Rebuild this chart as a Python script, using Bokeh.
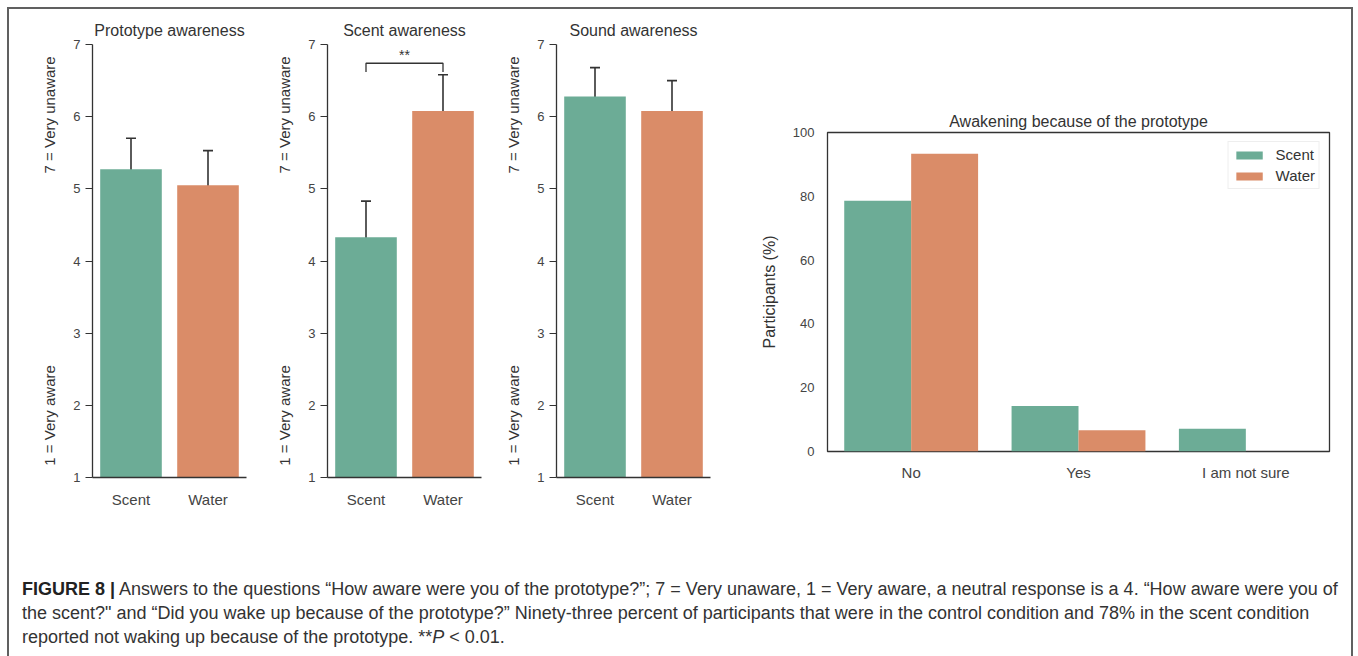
from bokeh.plotting import figure
from bokeh.models import (ColumnDataSource, FactorRange, Range1d, Whisker, TeeHead,
                          Label, FixedTicker, Legend, LegendItem, Div, Spacer)
from bokeh.layouts import row, column
from bokeh.transform import dodge
from bokeh.embed import file_html
from bokeh.resources import INLINE

# ---------------- data ----------------
conditions = ["Scent", "Water"]

proto_mean = [5.27, 5.05]
proto_lo = [4.85, 4.53]
proto_hi = [5.70, 5.53]

scent_mean = [4.33, 6.08]
scent_lo = [3.92, 5.75]
scent_hi = [4.83, 6.58]

sound_mean = [6.28, 6.08]
sound_lo = [5.97, 5.71]
sound_hi = [6.68, 6.50]

awareness_ticks = [1, 2, 3, 4, 5, 6, 7]
ylabel_low = "1 = Very aware"
ylabel_high = "7 = Very unaware"

wake_answers = ["No", "Yes", "I am not sure"]
wake_scent = [78.6, 14.3, 7.1]
wake_water = [93.3, 6.7, 0.0]
wake_ticks = [0, 20, 40, 60, 80, 100]

caption_lines = [
    "Answers to the questions \u201cHow aware were you of the prototype?\u201d; 7 = Very unaware, 1 = Very aware, a neutral response is a 4. \u201cHow aware were you of",
    "the scent?\" and \u201cDid you wake up because of the prototype?\u201d Ninety-three percent of participants that were in the control condition and 78% in the scent condition",
    "reported not waking up because of the prototype. **<i>P</i> &lt; 0.01.",
]

# ---------------- style ----------------
GREEN = "#6cac96"
ORANGE = "#da8c68"
FONT = "Liberation Sans"
AXIS = "#333333"
TICKTXT = "#444444"
TXT = "#333333"
ERR = "#333333"
NBSP = "\u00a0"


def awareness_panel(title, means, lo, hi, left_border, sig=None):
    src = ColumnDataSource(dict(cond=conditions, mean=means, lo=lo, hi=hi,
                                color=[GREEN, ORANGE]))
    p = figure(x_range=FactorRange(*conditions, range_padding=0),
               y_range=Range1d(1, 7),
               frame_width=156, frame_height=433,
               min_border_left=left_border, min_border_right=2,
               min_border_top=35, min_border_bottom=72,
               output_backend="svg", toolbar_location=None, title=title)
    p.vbar(x="cond", top="mean", bottom=0, width=0.8, source=src,
           fill_color="color", line_color=None)
    w = Whisker(source=src, base="cond", upper="hi", lower="lo",
                line_color=ERR, line_width=1.6,
                upper_head=TeeHead(size=10, line_color=ERR, line_width=1.6),
                lower_head=TeeHead(size=10, line_color=ERR, line_width=1.6))
    p.add_layout(w)

    p.title.align = "center"
    p.title.text_font = FONT
    p.title.text_font_size = "16px"
    p.title.text_font_style = "normal"
    p.title.text_color = TXT
    p.title.standoff = 11

    p.outline_line_color = None
    p.grid.visible = False
    p.background_fill_color = "white"
    p.border_fill_color = "white"

    p.yaxis.ticker = FixedTicker(ticks=awareness_ticks)
    p.yaxis.minor_tick_line_color = None
    p.yaxis.major_tick_out = 7
    p.yaxis.major_tick_in = 0
    p.yaxis.major_label_standoff = 5
    p.yaxis.major_tick_line_color = AXIS
    p.xaxis.major_tick_line_color = None
    p.xaxis.major_tick_out = 0
    p.xaxis.major_tick_in = 0
    p.xaxis.major_label_standoff = 13
    for ax in (p.xaxis[0], p.yaxis[0]):
        ax.axis_line_color = AXIS
        ax.axis_line_width = 1.3
        ax.major_label_text_font = FONT
        ax.major_label_text_color = TICKTXT
    p.yaxis.major_label_text_font_size = "13px"
    p.xaxis.major_label_text_font_size = "15px"

    p.yaxis.axis_label = ylabel_low + NBSP * 46 + ylabel_high
    p.yaxis.axis_label_text_font = FONT
    p.yaxis.axis_label_text_font_size = "15px"
    p.yaxis.axis_label_text_font_style = "normal"
    p.yaxis.axis_label_text_color = TXT
    p.yaxis.axis_label_standoff = 12

    if sig is not None:
        ytip = max(hi) + 0.04
        ytop = ytip + 0.12
        p.line(x=[conditions[0], conditions[0], conditions[1], conditions[1]],
               y=[ytip, ytop, ytop, ytip], line_color=ERR, line_width=1.3)
        p.add_layout(Label(x=1, y=ytop + 0.01, text=sig, text_align="center",
                           text_baseline="bottom", text_font=FONT,
                           text_font_size="14px", text_color=TXT))
    return p


p1 = awareness_panel("Prototype awareness", proto_mean, proto_lo, proto_hi, 83)
p2 = awareness_panel("Scent awareness", scent_mean, scent_lo, scent_hi, 78, sig="**")
p3 = awareness_panel("Sound awareness", sound_mean, sound_lo, sound_hi, 73)

# ---------------- panel 4 ----------------
src4 = ColumnDataSource(dict(ans=wake_answers, scent=wake_scent, water=wake_water))
p4 = figure(x_range=FactorRange(*wake_answers, range_padding=0),
            y_range=Range1d(0, 100),
            frame_width=502, frame_height=319,
            min_border_left=114, min_border_right=22,
            min_border_top=35, min_border_bottom=72,
            output_backend="svg", toolbar_location=None,
            title="Awakening because of the prototype")
r_s = p4.vbar(x=dodge("ans", -0.2, range=p4.x_range), top="scent", width=0.4,
              source=src4, fill_color=GREEN, line_color=None)
r_w = p4.vbar(x=dodge("ans", 0.2, range=p4.x_range), top="water", width=0.4,
              source=src4, fill_color=ORANGE, line_color=None)
p4.title.align = "center"
p4.title.text_font = FONT
p4.title.text_font_size = "16px"
p4.title.text_font_style = "normal"
p4.title.text_color = TXT
p4.title.standoff = 5
p4.grid.visible = False
p4.outline_line_color = AXIS
p4.outline_line_width = 1.3
p4.outline_line_alpha = 1.0
p4.yaxis.ticker = FixedTicker(ticks=wake_ticks)
for ax in (p4.xaxis[0], p4.yaxis[0]):
    ax.axis_line_color = None
    ax.major_tick_line_color = None
    ax.minor_tick_line_color = None
    ax.major_tick_out = 0
    ax.major_tick_in = 0
    ax.major_label_text_font = FONT
    ax.major_label_text_color = TICKTXT
p4.yaxis.major_label_text_font_size = "13px"
p4.xaxis.major_label_text_font_size = "15px"
p4.yaxis.major_label_standoff = 13
p4.xaxis.major_label_standoff = 12
p4.yaxis.axis_label = "Participants (%)"
p4.yaxis.axis_label_text_font = FONT
p4.yaxis.axis_label_text_font_size = "16px"
p4.yaxis.axis_label_text_font_style = "normal"
p4.yaxis.axis_label_text_color = TXT
p4.yaxis.axis_label_standoff = 12

legend = Legend(items=[LegendItem(label="Scent", renderers=[r_s]),
                       LegendItem(label="Water", renderers=[r_w])],
                location="top_right", label_text_font=FONT,
                label_text_font_size="15px", label_text_color=TXT,
                glyph_width=33, glyph_height=10, label_standoff=10,
                spacing=4, padding=4, margin=9,
                border_line_color="#dddddd", border_line_width=1,
                background_fill_alpha=1.0)
p4.add_layout(legend)

p4_col = column(Spacer(width=638, height=88), p4)

# ---------------- caption ----------------
cap_html = ("<span style='font-weight:bold;color:#222'>FIGURE 8 |</span> " + caption_lines[0]
            + "<br>" + caption_lines[1] + "<br>" + caption_lines[2])
caption = Div(text=cap_html, width=1346, height=100,
              styles={"font-family": FONT, "font-size": "18px", "line-height": "24px",
                      "color": "#333333", "white-space": "nowrap",
                      "padding-top": "23px", "padding-left": "8px",
                      "box-sizing": "border-box"})

layout = column(row(p1, p2, p3, p4_col), caption, width=1346,
                styles={"border-top": "2px solid #606060",
                        "border-left": "2px solid #606060",
                        "border-right": "2px solid #606060",
                        "margin-left": "7px", "margin-top": "7px",
                        "background-color": "white"})

open("out.html", "w").write(file_html(layout, INLINE))
